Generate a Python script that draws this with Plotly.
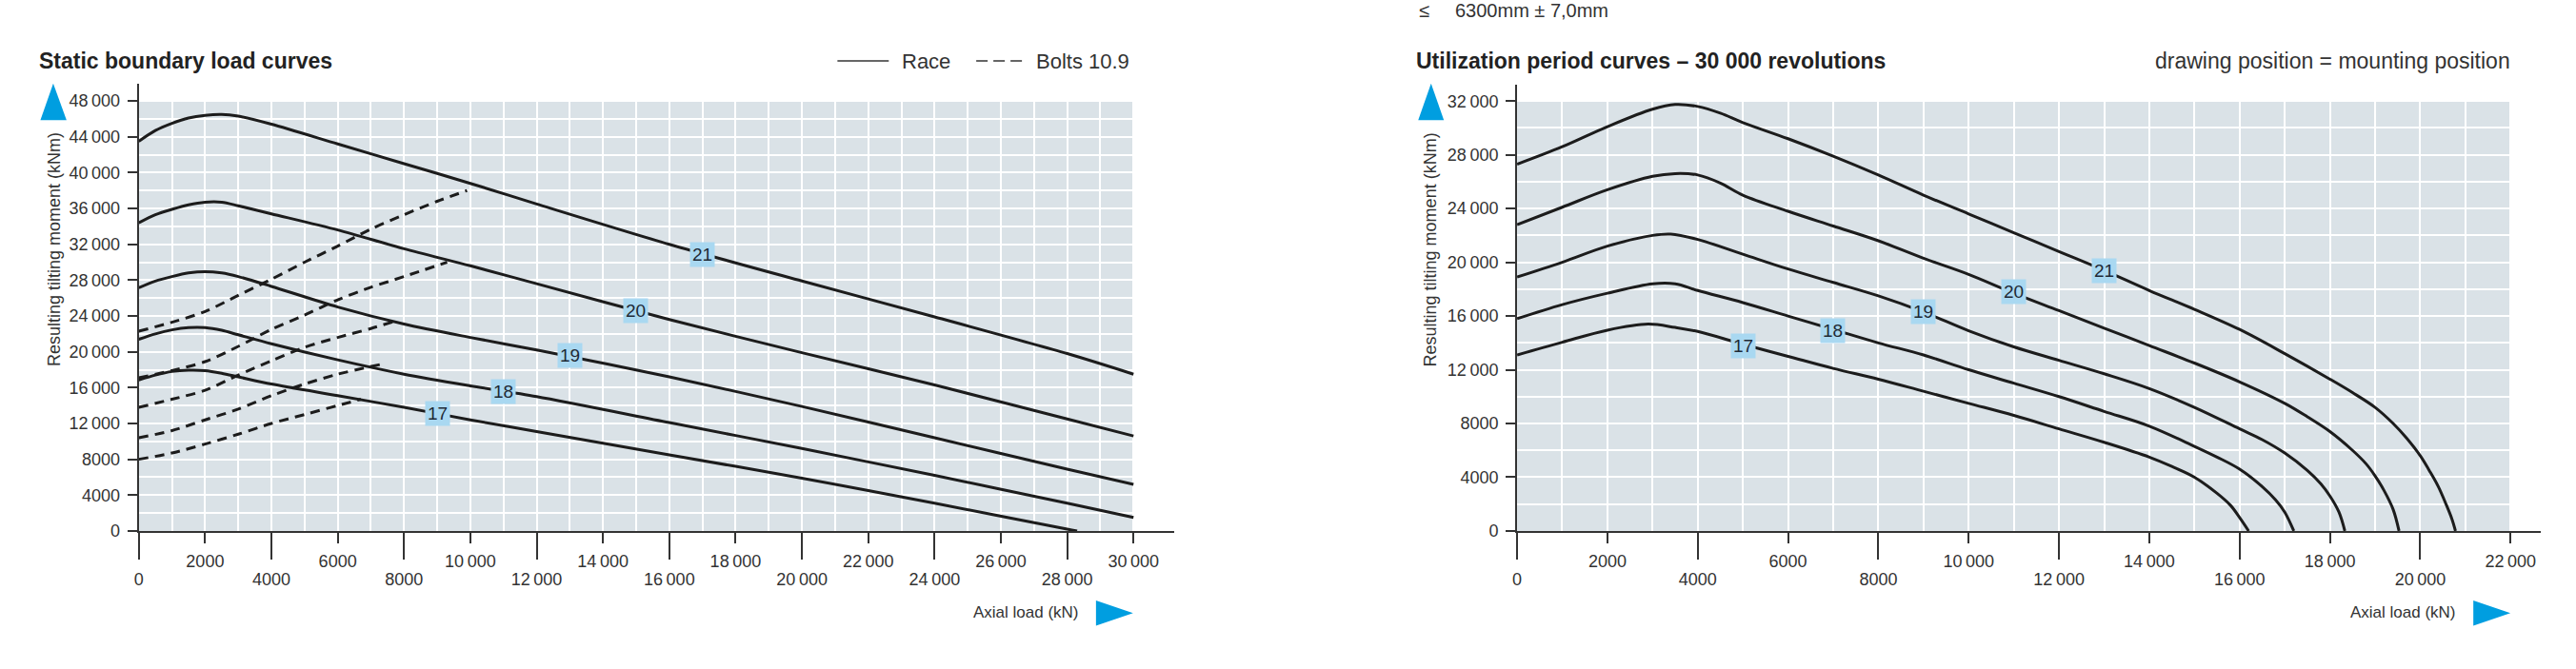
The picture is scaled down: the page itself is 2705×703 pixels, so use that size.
import plotly.graph_objects as go

W, H = 2705, 703


def fx(px):
    return px / W


def fy(py):
    return 1 - py / H


FONT = "Liberation Sans, Arial, sans-serif"
BG = "#dae2e7"
INK = "#1c1c1c"
TXT = "#333333"
BLUE = "#009ee0"
LABEL_BG = "#a9d8f1"

# ---- static boundary load curves (left) ----
s_x = [0, 500, 1000, 1500, 2000, 2500, 3000, 4000, 6000, 8000, 10000, 12000, 16000, 20000, 24000, 28000, 30000]
s21 = [43500, 44700, 45500, 46100, 46400, 46500, 46300, 45400, 43200, 41000, 38800, 36500, 32000, 27900, 23900, 19800, 17500]
s20 = [34400, 35300, 35900, 36400, 36700, 36700, 36300, 35400, 33600, 31500, 29600, 27600, 23600, 19900, 16300, 12500, 10600]
s19 = [27150, 27900, 28400, 28800, 28950, 28800, 28400, 27300, 25000, 23100, 21600, 20200, 17200, 13900, 10400, 6900, 5200]
s18 = [21400, 22000, 22450, 22700, 22700, 22400, 21900, 20900, 19100, 17500, 16200, 15000, 12100, 9200, 6200, 3100, 1500]
s17_x = [0, 500, 1000, 1500, 2000, 2500, 3000, 4000, 6000, 8000, 10000, 12000, 16000, 20000, 24000, 28000, 28300]
s17 = [16850, 17400, 17800, 17950, 17900, 17600, 17200, 16400, 15100, 13800, 12400, 11100, 8500, 5900, 3100, 200, 0]

b21_x = [0, 1000, 2000, 3000, 4000, 5000, 6000, 7000, 8000, 9000, 9900]
b21 = [22300, 23300, 24500, 26300, 28100, 30000, 31800, 33700, 35300, 36800, 38000]
b20_x = [0, 1000, 2000, 3000, 4000, 5000, 6000, 7000, 8000, 9300]
b20 = [17100, 17900, 18900, 20600, 22500, 24100, 25800, 27200, 28400, 30000]
b19_x = [0, 1000, 2000, 3000, 4000, 5000, 6000, 7000, 7800]
b19 = [13800, 14700, 15700, 17400, 19000, 20500, 21600, 22600, 23500]
b18_x = [0, 1000, 2000, 3000, 4000, 5000, 6000, 7300]
b18 = [10400, 11200, 12400, 13600, 15100, 16400, 17500, 18600]
b17_x = [0, 1000, 2000, 3000, 4000, 5000, 6000, 6700]
b17 = [8000, 8700, 9700, 10800, 12000, 13000, 14000, 14700]

s_labels = ["17", "18", "19", "20", "21"]
s_label_x = [9000, 11000, 13000, 15000, 17000]
s_label_y = [13100, 15600, 19600, 24600, 30900]

# ---- utilization period curves (right) ----
u21_x = [0, 1000, 2000, 3000, 3500, 4000, 4500, 5000, 6000, 7000, 8000, 9000, 10000, 11000, 12000, 13000,
         14000, 15000, 16000, 17000, 18000, 18500, 19000, 19400, 19700, 20000, 20200, 20400, 20570, 20700, 20780]
u21 = [27300, 28600, 30100, 31400, 31750, 31600, 31100, 30400, 29200, 27900, 26500, 25000, 23600, 22200, 20800,
       19400, 17900, 16500, 15000, 13200, 11300, 10300, 9200, 8000, 6900, 5600, 4500, 3300, 2000, 900, 0]
u20_x = [0, 1000, 2000, 3000, 3500, 4000, 4500, 5000, 6000, 7000, 8000, 9000, 10000, 11000, 12000, 13000,
         14000, 15000, 16000, 17000, 17500, 18000, 18500, 18800, 19000, 19200, 19400, 19530]
u20 = [22800, 24100, 25400, 26400, 26600, 26500, 25900, 25000, 23800, 22700, 21600, 20300, 19100, 17700, 16400,
       15100, 13800, 12500, 11100, 9500, 8500, 7400, 6000, 5000, 4100, 3000, 1600, 0]
u19_x = [0, 1000, 2000, 3000, 3400, 4000, 5000, 6000, 7000, 8000, 9000, 10000, 11000, 12000, 13000, 14000,
         15000, 16000, 16500, 17000, 17500, 17800, 18000, 18200, 18330]
u19 = [18900, 20000, 21200, 22000, 22100, 21700, 20600, 19500, 18500, 17500, 16300, 14900, 13700, 12700, 11700,
       10600, 9200, 7600, 6800, 5800, 4500, 3500, 2600, 1400, 0]
u18_x = [0, 1000, 2000, 3000, 3500, 4000, 5000, 6000, 7000, 8000, 9000, 10000, 11000, 12000, 13000, 14000,
         15000, 15500, 16000, 16500, 16800, 17000, 17200]
u18 = [15800, 16850, 17700, 18400, 18400, 17900, 17000, 16000, 15000, 14000, 13100, 12000, 11000, 10000, 8900,
       7800, 6300, 5500, 4600, 3300, 2300, 1400, 0]
u17_x = [0, 1000, 2000, 2900, 3500, 4000, 5000, 6000, 7000, 8000, 9000, 10000, 11000, 12000, 13000, 14000,
         14500, 15000, 15500, 15800, 16000, 16200]
u17 = [13100, 14050, 14950, 15400, 15150, 14850, 13900, 13000, 12100, 11300, 10400, 9500, 8600, 7600, 6600,
       5500, 4800, 4000, 2800, 1900, 1000, 0]

u_labels = ["17", "18", "19", "20", "21"]
u_label_x = [5000, 7000, 9000, 11000, 13000]
u_label_y = [13800, 14900, 16300, 17800, 19400]

# tick values
s_ticks_low = list(range(0, 30000, 4000))
s_ticks_up = list(range(2000, 30001, 4000))
s_yticks = list(range(0, 48001, 4000))
u_ticks_low = list(range(0, 22000, 4000))
u_ticks_up = list(range(2000, 22001, 4000))
u_yticks = list(range(0, 32001, 4000))


def fmt(v):
    if v >= 10000:
        return f"{v // 1000}\u2009{v % 1000:03d}"
    return str(v)


fig = go.Figure()


def curve(x, y, xa, ya, dash="solid", smooth=0.8):
    fig.add_trace(go.Scatter(x=x, y=y, xaxis=xa, yaxis=ya, mode="lines",
                             line=dict(color=INK, width=3, dash=dash, shape="spline", smoothing=smooth),
                             showlegend=False, hoverinfo="skip"))


for yy in [s21, s20, s19, s18]:
    curve(s_x, yy, "x", "y")
curve(s17_x, s17, "x", "y")
for xx, yy in [(b21_x, b21), (b20_x, b20), (b19_x, b19), (b18_x, b18), (b17_x, b17)]:
    curve(xx, yy, "x", "y", dash="10px,7px")

for xx, yy in [(u21_x, u21), (u20_x, u20), (u19_x, u19), (u18_x, u18), (u17_x, u17)]:
    curve(xx, yy, "x2", "y2", smooth=1.0)

# empty traces so the overlaid tick axes get drawn
for xa, ya in [("x3", "y"), ("x4", "y"), ("x", "y3"), ("x5", "y2"), ("x6", "y2"), ("x2", "y4")]:
    fig.add_trace(go.Scatter(x=[None], y=[None], xaxis=xa, yaxis=ya, mode="lines",
                             showlegend=False, hoverinfo="skip"))

tickfont = dict(family=FONT, size=18, color=TXT)


def grid_axis(domain, rng, dt, anchor):
    return dict(domain=domain, range=rng, anchor=anchor, tickmode="linear", tick0=0, dtick=dt,
                showgrid=True, gridcolor="white", gridwidth=2, showticklabels=False, ticks="",
                showline=True, linecolor=TXT, linewidth=2, zeroline=False, fixedrange=True)


def tick_axis(over, anchor, rng, vals, ln, side, standoff):
    return dict(overlaying=over, anchor=anchor, range=rng, side=side, tickmode="array", tickvals=vals,
                ticktext=[fmt(v) for v in vals], ticks="outside", ticklen=ln, tickwidth=2, tickcolor=TXT,
                ticklabelstandoff=standoff, showgrid=False, showline=False, zeroline=False,
                tickfont=tickfont, fixedrange=True)


s_xr = [0, 31220]
s_yr = [0, 49950]
u_xr = [0, 22670]
u_yr = [0, 33240]

fig.update_layout(
    width=W, height=H, autosize=False, margin=dict(l=0, r=0, t=0, b=0, pad=0),
    paper_bgcolor="white", plot_bgcolor="white", showlegend=False,
    xaxis=grid_axis([fx(141), fx(1230)], s_xr, 1000, "y"),
    yaxis=grid_axis([fy(566), fy(89)], s_yr, 2000, "x"),
    xaxis2=grid_axis([fx(1591), fx(2668)], u_xr, 1000, "y2"),
    yaxis2=grid_axis([fy(566), fy(90)], u_yr, 2000, "x2"),
    xaxis3=tick_axis("x", "y", s_xr, s_ticks_low, 29, "bottom", 5),
    xaxis4=tick_axis("x", "y", s_xr, s_ticks_up, 12, "bottom", 3),
    yaxis3=tick_axis("y", "x", s_yr, s_yticks, 11, "left", 4),
    xaxis5=tick_axis("x2", "y2", u_xr, u_ticks_low, 29, "bottom", 5),
    xaxis6=tick_axis("x2", "y2", u_xr, u_ticks_up, 12, "bottom", 3),
    yaxis4=tick_axis("y2", "x2", u_yr, u_yticks, 11, "left", 4),
)

# plot backgrounds
fig.add_shape(type="rect", xref="x", yref="y", x0=0, x1=30000, y0=0, y1=48000,
              fillcolor=BG, line_width=0, layer="below")
fig.add_shape(type="rect", xref="x2", yref="y2", x0=0, x1=22000, y0=0, y1=32000,
              fillcolor=BG, line_width=0, layer="below")

# curve number labels
for t, x, y in zip(s_labels, s_label_x, s_label_y):
    fig.add_annotation(x=x, y=y, xref="x", yref="y", text=t, showarrow=False, bgcolor=LABEL_BG,
                       borderpad=2, font=dict(family=FONT, size=19, color="#1e2a36"))
for t, x, y in zip(u_labels, u_label_x, u_label_y):
    fig.add_annotation(x=x, y=y, xref="x2", yref="y2", text=t, showarrow=False, bgcolor=LABEL_BG,
                       borderpad=2, font=dict(family=FONT, size=19, color="#1e2a36"))


def ptext(px, py, text, size, anchor="left", bold=False, angle=0, color="#222222"):
    fig.add_annotation(x=fx(px), y=fy(py), xref="paper", yref="paper", text=f"<b>{text}</b>" if bold else text,
                       showarrow=False, xanchor=anchor, yanchor="middle", textangle=angle, borderpad=0,
                       font=dict(family=FONT, size=size, color=color))


# titles
ptext(35, 65, "Static boundary load curves", 23, bold=True)
ptext(1484, 65, "Utilization period curves – 30 000 revolutions", 23, bold=True)
ptext(2637, 65, "drawing position = mounting position", 23, anchor="right", color=TXT)
ptext(1487, 11, "≤", 20, color=TXT)
ptext(1525, 11, "6300mm ± 7,0mm", 20, color=TXT)

# legend
fig.add_shape(type="line", xref="paper", yref="paper", x0=fx(876), x1=fx(930), y0=fy(65), y1=fy(65),
              line=dict(color=TXT, width=1.5))
ptext(943, 65, "Race", 22, color=TXT)
fig.add_shape(type="line", xref="paper", yref="paper", x0=fx(1022), x1=fx(1071), y0=fy(65), y1=fy(65),
              line=dict(color=TXT, width=1.5, dash="12px,6px"))
ptext(1084, 65, "Bolts 10.9", 22, color=TXT)

# axis titles
ptext(52, 266, "Resulting tilting moment (kNm)", 18, anchor="center", angle=-90, color=TXT)
ptext(1500, 266, "Resulting tilting moment (kNm)", 18, anchor="center", angle=-90, color=TXT)
ptext(1131, 653, "Axial load (kN)", 17, anchor="right", color=TXT)
ptext(2580, 653, "Axial load (kN)", 17, anchor="right", color=TXT)


# blue arrow triangles
def tri(points):
    path = "M " + " L ".join(f"{fx(a)},{fy(b)}" for a, b in points) + " Z"
    fig.add_shape(type="path", xref="paper", yref="paper", path=path, fillcolor=BLUE, line_width=0)


tri([(37.5, 128), (51, 89), (65, 128)])
tri([(1487, 128), (1500.5, 89), (1514, 128)])
tri([(1148, 640), (1187, 653.5), (1148, 667)])
tri([(2597, 640), (2636, 653.5), (2597, 667)])

fig.write_html(
    "out.html",
    config={"displayModeBar": False, "responsive": False},
    post_script="document.documentElement.style.overflow='hidden';"
                "document.body.style.margin='0';document.body.style.overflow='hidden';",
)
